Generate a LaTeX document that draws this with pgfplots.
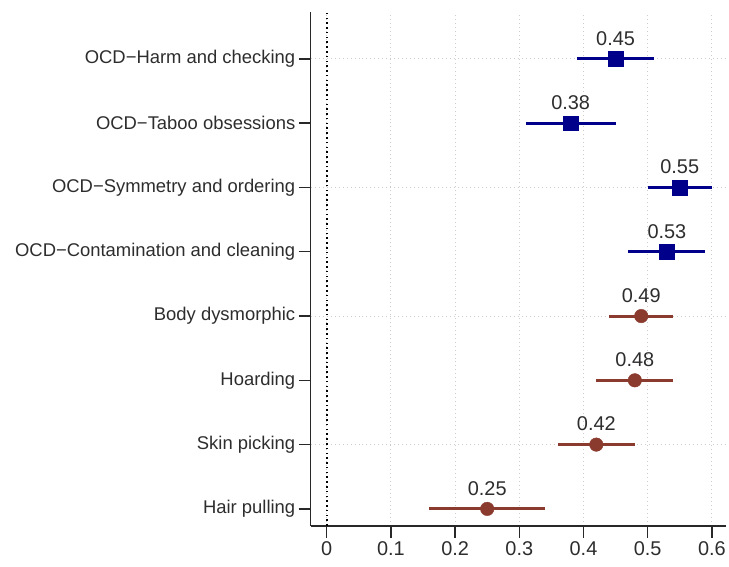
\documentclass[border=0pt]{standalone}
\usepackage{fontspec}
\setmainfont{Liberation Sans}
\usepackage{pgfplots}
\usepackage{pgfplotstable}
\pgfplotsset{compat=1.18}
\definecolor{navyc}{RGB}{0,0,139}
\definecolor{brick}{RGB}{139,58,46}
\definecolor{axgray}{RGB}{40,40,40}
\definecolor{txtgray}{RGB}{45,45,45}
\pgfplotstableread{
x y lo hi
0.45 8 0.06 0.06
0.38 7 0.07 0.07
0.55 6 0.05 0.05
0.53 5 0.06 0.06
}\ocd
\pgfplotstableread{
x y lo hi
0.49 4 0.05 0.05
0.48 3 0.06 0.06
0.42 2 0.06 0.06
0.25 1 0.09 0.09
}\other
\begin{document}
\begin{tikzpicture}
\begin{axis}[
  name=ax,
  scale only axis,
  width=417bp, height=516bp,
  xmin=-0.025, xmax=0.622,
  ymin=0.737, ymax=8.73,
  axis x line*=bottom, axis y line*=left,
  axis line style={line width=1.5bp, axgray},
  xtick={0,0.1,...,0.6},
  xticklabels={0,0.1,0.2,0.3,0.4,0.5,0.6},
  ytick={1,...,8},
  yticklabels={Hair pulling,Skin picking,Hoarding,Body dysmorphic,OCD−Contamination and cleaning,OCD−Symmetry and ordering,OCD−Taboo obsessions,OCD−Harm and checking},
  tick align=outside,
  major tick length=12bp,
  tick style={line width=1.5bp, axgray},
  yticklabel style={font=\fontsize{18.5bp}{22bp}\selectfont, text=txtgray},
  xticklabel style={font=\fontsize{20bp}{24bp}\selectfont, text=txtgray},
  /pgf/number format/assume math mode=true,
  xmajorgrids=true,
  grid style={dash pattern=on 1bp off 3bp, gray!40, line width=0.9bp},
  extra y ticks={2,4,6,8},
  extra y tick labels={},
  extra y tick style={ymajorgrids=true, xmajorgrids=false, major tick length=0pt},
  clip=false,
]
\addplot[black, line width=1.6bp, dash pattern=on 1.6bp off 3.2bp] coordinates {(0,0.737) (0,8.73)};
\addplot[navyc, only marks, mark=square*, mark size=7.5bp,
  error bars/.cd, x dir=both, x explicit, error mark=none,
  error bar style={line width=3bp, navyc}]
  table[x=x, y=y, x error minus=lo, x error plus=hi] {\ocd};
\addplot[brick, only marks, mark=*, mark size=6.8bp,
  error bars/.cd, x dir=both, x explicit, error mark=none,
  error bar style={line width=3bp, brick}]
  table[x=x, y=y, x error minus=lo, x error plus=hi] {\other};
\addplot[only marks, mark=none, point meta=explicit symbolic,
  nodes near coords, nodes near coords style={anchor=south, yshift=10bp, font=\fontsize{20bp}{24bp}\selectfont, text=txtgray}]
  table[x=x, y=y, meta=x] {\ocd};
\addplot[only marks, mark=none, point meta=explicit symbolic,
  nodes near coords, nodes near coords style={anchor=south, yshift=10bp, font=\fontsize{20bp}{24bp}\selectfont, text=txtgray}]
  table[x=x, y=y, meta=x] {\other};
\end{axis}
\path[use as bounding box] (ax.south west) ++(-312bp,-41bp) rectangle ++(729bp,569bp);
\end{tikzpicture}
\end{document}
